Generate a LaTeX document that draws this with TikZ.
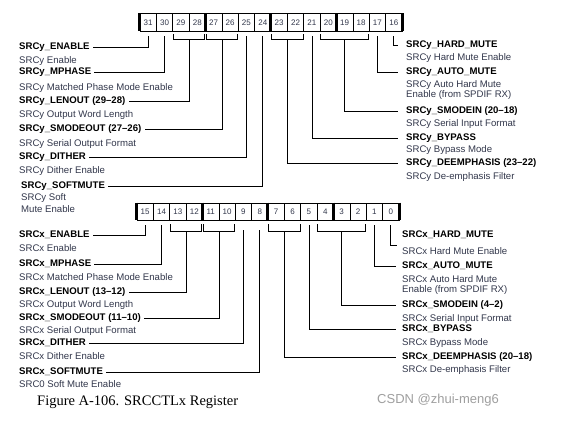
\documentclass[tikz,border=0pt]{standalone}
\usepackage{fontspec}
\setmainfont{Liberation Serif}
\setsansfont{Liberation Sans}
\usepackage{tikz}
\definecolor{desc}{RGB}{50,55,75}
\tikzset{
bitcell/.style={draw, line width=0.6pt, minimum width=16.375pt, inner sep=0pt, font=\sffamily\fontsize{8}{8}\selectfont, text=desc},
fname/.style={anchor=west, inner xsep=3pt, inner ysep=0pt, text height=7pt, text depth=2pt, font=\sffamily\bfseries\fontsize{9.6}{10}\selectfont},
fdesc/.style={anchor=base west, inner sep=0pt, align=left, text=desc, font=\sffamily\fontsize{9.6}{10}\selectfont},
wire/.style={line width=0.8pt},
sepbar/.style={line width=3pt}
}

\begin{document}
\begin{tikzpicture}[x=1pt,y=-1pt]
\useasboundingbox (0,0) rectangle (567,429);
\fill[white] (0,0) rectangle (567,429);
% register cells
\foreach \b in {31,...,16}
  \node[bitcell, minimum height=17.5pt] (t\b) at ({140+(31-\b+0.5)*16.375},22.25) {\b};
\foreach \b in {15,...,0}
  \node[bitcell, minimum height=17pt] (b\b) at ({137+(15-\b+0.5)*16.375},211.5) {\b};
\draw[sepbar] (t31.north west) -- (t31.south west);
\draw[sepbar] (t27.north west) -- (t27.south west);
\draw[sepbar] (t23.north west) -- (t23.south west);
\draw[sepbar] (t19.north west) -- (t19.south west);
\draw[sepbar] (t16.north east) -- (t16.south east);
\draw[sepbar] (b15.north west) -- (b15.south west);
\draw[sepbar] (b11.north west) -- (b11.south west);
\draw[sepbar] (b7.north west) -- (b7.south west);
\draw[sepbar] (b3.north west) -- (b3.south west);
\draw[sepbar] (b0.north east) -- (b0.south east);

% SRCy fields
\node[fname] (yenable) at (16,47) {SRCy\_ENABLE};
\node[fdesc] at (19,63) {SRCy Enable};
\node[fname] (ymphase) at (16,72) {SRCy\_MPHASE};
\node[fdesc] at (19,90) {SRCy Matched Phase Mode Enable};
\node[fname] (ylenout) at (16,101) {SRCy\_LENOUT (29–28)};
\node[fdesc] at (19,117) {SRCy Output Word Length};
\node[fname] (ysmodeout) at (16,129) {SRCy\_SMODEOUT (27–26)};
\node[fdesc] at (19,146) {SRCy Serial Output Format};
\node[fname] (ydither) at (16,157) {SRCy\_DITHER};
\node[fdesc] at (19,173) {SRCy Dither Enable};
\node[fname] (ysoftmute) at (18,186) {SRCy\_SOFTMUTE};
\node[fdesc, font=\sffamily\fontsize{9.6}{12}\selectfont] at (21,212) {SRCy Soft\\Mute Enable};
\node[fname] (yhard) at (403,45) {SRCy\_HARD\_MUTE};
\node[fdesc] at (406,60) {SRCy Hard Mute Enable};
\node[fname] (yauto) at (403,72) {SRCy\_AUTO\_MUTE};
\node[fdesc] at (406,97) {SRCy Auto Hard Mute\\Enable (from SPDIF RX)};
\node[fname] (ysmodein) at (403,111) {SRCy\_SMODEIN (20–18)};
\node[fdesc] at (406,126) {SRCy Serial Input Format};
\node[fname] (ybypass) at (403,138) {SRCy\_BYPASS};
\node[fdesc] at (406,152) {SRCy Bypass Mode};
\node[fname] (ydeemph) at (403,163) {SRCy\_DEEMPHASIS (23–22)};
\node[fdesc] at (406,179) {SRCy De-emphasis Filter};

\draw[wire] ([yshift=-5pt]t31.south) |- (yenable.east);
\draw[wire] ([yshift=-5pt]t30.south) |- (ymphase.east);
\draw[wire] ([xshift=1pt,yshift=-3pt]t29.south west) |- ([xshift=-1pt,yshift=-8pt]t28.south east) -- ([xshift=-1pt,yshift=-3pt]t28.south east);
\draw[wire] ([yshift=-8pt]t29.south east) |- (ylenout.east);
\draw[wire] ([xshift=1pt,yshift=-3pt]t27.south west) |- ([xshift=-1pt,yshift=-8pt]t26.south east) -- ([xshift=-1pt,yshift=-3pt]t26.south east);
\draw[wire] ([yshift=-8pt]t27.south east) |- (ysmodeout.east);
\draw[wire] ([yshift=-5pt]t25.south) |- (ydither.east);
\draw[wire] ([yshift=-5pt]t24.south) |- (ysoftmute.east);
\draw[wire] ([xshift=1pt,yshift=-3pt]t23.south west) |- ([xshift=-1pt,yshift=-8pt]t22.south east) -- ([xshift=-1pt,yshift=-3pt]t22.south east);
\draw[wire, shorten >=5pt] ([yshift=-8pt]t23.south east) |- (ydeemph.west);
\draw[wire, shorten >=5pt] ([yshift=-5pt]t21.south) |- (ybypass.west);
\draw[wire] ([xshift=1pt,yshift=-3pt]t20.south west) |- ([xshift=-1pt,yshift=-8pt]t18.south east) -- ([xshift=-1pt,yshift=-3pt]t18.south east);
\draw[wire, shorten >=5pt] ([yshift=-8pt]t19.south) |- (ysmodein.west);
\draw[wire, shorten >=5pt] ([yshift=-5pt]t17.south) |- (yauto.west);
\draw[wire, shorten >=5pt] ([yshift=-5pt]t16.south) |- (yhard.west);

% SRCx fields
\node[fname] (xenable) at (16,235) {SRCx\_ENABLE};
\node[fdesc] at (19,251) {SRCx Enable};
\node[fname] (xmphase) at (16,264) {SRCx\_MPHASE};
\node[fdesc] at (19,280) {SRCx Matched Phase Mode Enable};
\node[fname] (xlenout) at (16,292) {SRCx\_LENOUT (13–12)};
\node[fdesc] at (19,307) {SRCx Output Word Length};
\node[fname] (xsmodeout) at (16,318) {SRCx\_SMODEOUT (11–10)};
\node[fdesc] at (19,333) {SRCx Serial Output Format};
\node[fname] (xdither) at (16,343) {SRCx\_DITHER};
\node[fdesc] at (19,359) {SRCx Dither Enable};
\node[fname] (xsoftmute) at (16,372) {SRCx\_SOFTMUTE};
\node[fdesc] at (19,387) {SRC0 Soft Mute Enable};
\node[fname] (xhard) at (399,235) {SRCx\_HARD\_MUTE};
\coordinate (xhardend) at (397,245);
\node[fdesc] at (402,254) {SRCx Hard Mute Enable};
\node[fname] (xauto) at (399,266) {SRCx\_AUTO\_MUTE};
\node[fdesc] at (402,292) {SRCx Auto Hard Mute\\Enable (from SPDIF RX)};
\node[fname] (xsmodein) at (399,305) {SRCx\_SMODEIN (4–2)};
\node[fdesc] at (402,321) {SRCx Serial Input Format};
\node[fname] (xbypass) at (399,329) {SRCx\_BYPASS};
\node[fdesc] at (402,345) {SRCx Bypass Mode};
\node[fname] (xdeemph) at (399,357) {SRCx\_DEEMPHASIS (20–18)};
\node[fdesc] at (402,372) {SRCx De-emphasis Filter};

\draw[wire] ([yshift=-5pt]b15.south) |- (xenable.east);
\draw[wire] ([yshift=-5pt]b14.south) |- (xmphase.east);
\draw[wire] ([xshift=1pt,yshift=-4pt]b13.south west) |- ([xshift=-1pt,yshift=-11pt]b12.south east) -- ([xshift=-1pt,yshift=-4pt]b12.south east);
\draw[wire] ([yshift=-11pt]b13.south east) |- (xlenout.east);
\draw[wire] ([xshift=1pt,yshift=-4pt]b11.south west) |- ([xshift=-1pt,yshift=-11pt]b10.south east) -- ([xshift=-1pt,yshift=-4pt]b10.south east);
\draw[wire] ([yshift=-11pt]b11.south east) |- (xsmodeout.east);
\draw[wire] ([yshift=-10pt]b9.south) |- (xdither.east);
\draw[wire] ([yshift=-10pt]b8.south) |- (xsoftmute.east);
\draw[wire] ([xshift=1pt,yshift=-4pt]b7.south west) |- ([xshift=-1pt,yshift=-11pt]b6.south east) -- ([xshift=-1pt,yshift=-4pt]b6.south east);
\draw[wire, shorten >=3pt] ([yshift=-11pt]b7.south east) |- (xdeemph.west);
\draw[wire, shorten >=3pt] ([yshift=-5pt]b5.south) |- (xbypass.west);
\draw[wire] ([xshift=1pt,yshift=-4pt]b4.south west) |- ([xshift=-1pt,yshift=-11pt]b2.south east) -- ([xshift=-1pt,yshift=-4pt]b2.south east);
\draw[wire, shorten >=3pt] ([yshift=-11pt]b3.south) |- (xsmodein.west);
\draw[wire, shorten >=3pt] ([yshift=-5pt]b1.south) |- (xauto.west);
\draw[wire] ([yshift=-5pt]b0.south) |- (xhardend);

\node[anchor=base west, inner sep=0pt, font=\fontsize{14.5}{16}\selectfont] (caption) at (37,405) {Figure A-106. SRCCTLx Register};
\node[anchor=base west, inner sep=0pt, text=gray!75, font=\sffamily\fontsize{13}{14}\selectfont] (mark) at (377,403) {CSDN @zhui-meng6};
\end{tikzpicture}
\end{document}
